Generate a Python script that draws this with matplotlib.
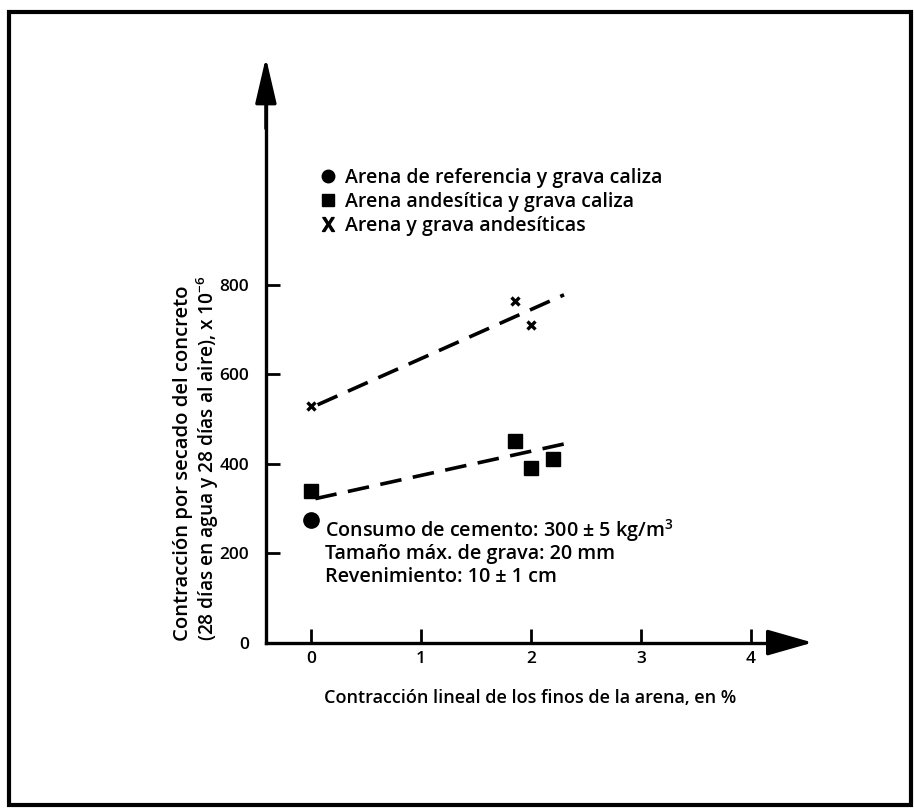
import matplotlib
matplotlib.use("Agg")
import matplotlib.pyplot as plt
from matplotlib.lines import Line2D
from matplotlib.patches import Rectangle

plt.rcParams['font.family'] = ['Open Sans', 'DejaVu Sans']
plt.rcParams['font.weight'] = 'semibold'
plt.rcParams['mathtext.fontset'] = 'custom'
plt.rcParams['mathtext.rm'] = 'Open Sans:semibold'

# data
ref_x = [0.0]
ref_y = [275]
andes_x = [0.0, 1.85, 2.0, 2.2]
andes_y = [340, 450, 390, 410]
full_x = [0.0, 1.85, 2.0]
full_y = [530, 765, 710]
# hand-drawn trend lines (end points)
full_fit_x = [0.06, 2.3]
full_fit_y = [532, 778]
andes_fit_x = [0.04, 2.35]
andes_fit_y = [322, 447]

xticks = [0, 1, 2, 3, 4]
yticks = [0, 200, 400, 600, 800]
legend_labels = ["Arena de referencia y grava caliza",
                 "Arena andesítica y grava caliza",
                 "Arena y grava andesíticas"]
notes = ["Consumo de cemento: 300 ± 5 kg/m$^{3}$",
         "Tamaño máx. de grava: 20 mm",
         "Revenimiento: 10 ± 1 cm"]

W, H = 914, 809
fig = plt.figure(figsize=(W / 100, H / 100), dpi=100)
px = lambda x: x / W
py = lambda y: (H - y) / H

ax = fig.add_axes([px(256), py(656), px(828) - px(256), py(57) - py(656)])
ax.set_xlim(-0.5, 4.7)
ax.set_ylim(-30, 1310)
ax.patch.set_alpha(0)

X0 = -0.41
for s in ["top", "right"]:
    ax.spines[s].set_visible(False)
ax.spines["left"].set_position(("data", X0))
ax.spines["bottom"].set_position(("data", 0))
ax.spines["left"].set_bounds(0, 1250)
ax.spines["bottom"].set_bounds(X0, 4.3)
for s in ["left", "bottom"]:
    ax.spines[s].set_linewidth(2.4)

ax.set_xticks(xticks)
ax.set_yticks(yticks)
ax.tick_params(axis="both", direction="in", length=10, width=2, labelsize=12.5)
ax.tick_params(axis="y", pad=12)
ax.tick_params(axis="x", pad=6)

# arrow heads
ax.annotate("", xy=(4.56, 0), xytext=(4.15, 0),
            arrowprops=dict(arrowstyle="-|>,head_length=2.8,head_width=0.8", lw=2.4,
                            color="black", shrinkA=0, shrinkB=0))
ax.annotate("", xy=(X0, 1309), xytext=(X0, 1150),
            arrowprops=dict(arrowstyle="-|>,head_length=2.8,head_width=0.65", lw=2.4,
                            color="black", shrinkA=0, shrinkB=0))

# trend lines
ax.plot(full_fit_x, full_fit_y, color="black", lw=2.6, dashes=(6, 3.2))
ax.plot(andes_fit_x, andes_fit_y, color="black", lw=2.6, dashes=(6, 3.2))

# points
ax.plot(ref_x, ref_y, "o", color="black", ms=11, ls="none")
ax.plot(andes_x, andes_y, "s", color="black", ms=10, ls="none")
ax.plot(full_x, full_y, "x", color="black", ms=5.5, mew=2.4, ls="none")

# legend
handles = [Line2D([], [], marker="o", color="black", ls="none", ms=9),
           Line2D([], [], marker="s", color="black", ls="none", ms=8.5),
           Line2D([], [], marker="$\\mathrm{X}$", color="black", ls="none", ms=10)]
ax.legend(handles, legend_labels, loc="upper left",
          bbox_to_anchor=(px(321), py(168)), bbox_transform=fig.transFigure,
          frameon=False, prop=dict(size=14, weight="semibold"),
          handlelength=0.7, handletextpad=0.55,
          labelspacing=0.2, borderpad=0, borderaxespad=0)

# notes
for i, t in enumerate(notes):
    fig.text(px(325), py(531 + 23 * i), t, fontsize=14.2, va="center", ha="left")

# axis labels
fig.text(px(530), py(698), "Contracción lineal de los finos de la arena, en %",
         fontsize=13, ha="center", va="center")
fig.text(px(183), py(641), "Contracción por secado del concreto", fontsize=14.6,
         rotation=90, ha="center", va="bottom")
fig.text(px(208), py(641), "(28 días en agua y 28 días al aire), x 10$^{-6}$", fontsize=13.8,
         rotation=90, ha="center", va="bottom")

# scanned page frame
fig.patches.append(Rectangle((px(9), py(805)), px(911) - px(9), py(12) - py(805),
                             transform=fig.transFigure, fill=False, lw=3, ec="black"))

fig.savefig("out.png", dpi=100)
